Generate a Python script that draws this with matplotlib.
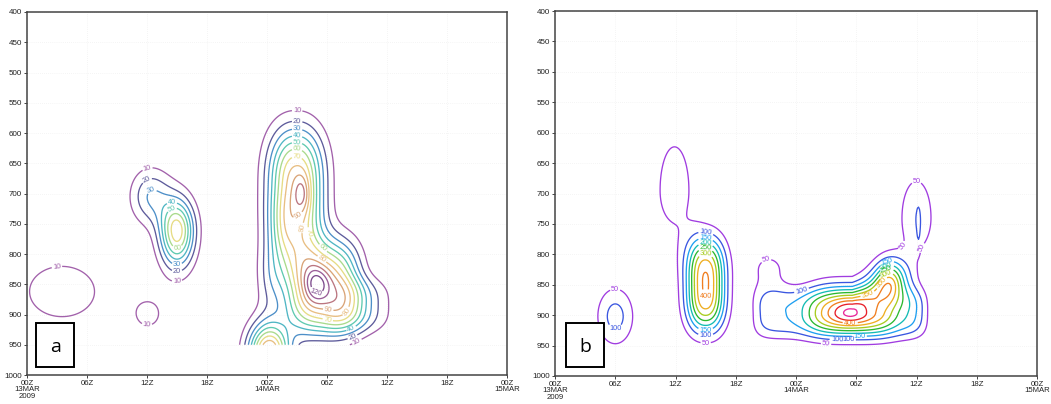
import numpy as np
import matplotlib
matplotlib.use("Agg")
import matplotlib.pyplot as plt
from matplotlib.patches import Rectangle

# ---------------- data (time in hours after 00Z 13MAR2009, pressure in hPa) -------------
# Panel a : field components (centre, peak, widths, shape, tilt)
a_t0   = [3.5, 12.1, 15.0, 12.4, 26.9, 27.5, 29.5, 29.0, 24.2, 33.0, 24.5, 25.8]
a_p0   = [862, 899, 762, 705, 690, 700, 860, 850, 965, 885, 840, 760]
a_amp  = [17, 12, 76, 30, 85, 22, 85, 35, 95, 30, 20, 15]
a_sx   = [4.45, 2.35, 1.7, 2.0, 2.7, 0.8, 3.6, 1.3, 2.0, 3.0, 1.5, 1.5]
a_syu  = [57, 42, 52, 45, 95, 30, 80, 30, 50, 45, 60, 55]
a_syd  = [57, 42, 58, 45, 120, 30, 72, 30, 50, 45, 60, 50]
a_px   = [2, 2, 2, 2, 2.2, 2, 3, 2, 2, 2, 2, 2]
a_py   = [2, 2, 2, 2, 2.6, 2, 2.7, 2, 2, 3, 2, 2]
a_tilt = [0, 0, 0, 0, 0, 0, 0, 0, 0, 0, 0, 0]
a_levels = [10, 20, 30, 40, 50, 60, 70, 80, 90, 100, 110, 120]

# Panel b
b_t0   = [6.0, 15.0, 11.9, 28.4, 29.6, 29.4, 33.4, 21.3, 35.4, 36.0, 36.2]
b_p0   = [902, 850, 695, 897, 897, 896, 845, 825, 860, 740, 765]
b_amp  = [120, 405, 65, 145, 260, 110, 230, 65, 40, 95, 35]
b_sx   = [1.85, 1.9, 2.8, 8.6, 4.4, 1.8, 1.5, 2.0, 1.2, 1.8, 0.2]
b_syu  = [48, 75, 140, 42, 45, 25, 36, 32, 60, 75, 40]
b_syd  = [48, 75, 100, 41, 35, 20, 32, 40, 60, 60, 30]
b_px   = [2, 2.2, 2, 12, 3.5, 2, 2, 2, 2, 2, 2]
b_py   = [2, 3.0, 2, 3, 2, 2, 2, 2, 3, 2, 2]
b_tilt = [0, 0, 0, 0, -10, 0, 0, 0, 0, 0, 0]
b_levels = [50, 100, 150, 200, 250, 300, 350, 400, 450, 500]

time_ticks = [0, 6, 12, 18, 24, 30, 36, 42, 48]
time_labels = ["00Z\n13MAR\n2009", "06Z", "12Z", "18Z", "00Z\n14MAR", "06Z", "12Z", "18Z", "00Z\n15MAR"]
p_ticks = [400, 450, 500, 550, 600, 650, 700, 750, 800, 850, 900, 950, 1000]

# label anchor points (where the reference writes its contour labels)
a_label_pts = [(3.0, 822), (12.0, 916), (12.0, 656), (12.0, 678), (12.6, 702), (14.5, 716),
               (14.5, 726), (15.0, 787), (15.0, 821), (15.0, 833), (15.0, 846),
               (27.0, 570), (27.0, 587), (27.0, 598), (27.0, 607), (27.0, 617), (27.0, 628),
               (27.0, 638), (26.9, 731), (27.6, 757), (28.3, 764), (29.5, 792), (29.5, 808),
               (28.8, 867), (30.1, 895), (30.1, 907), (31.8, 893), (32.5, 926), (32.5, 935),
               (33.0, 945)]
b_label_pts = [(6.0, 862), (6.0, 922), (15.0, 767), (15.0, 775), (15.0, 783), (15.0, 790),
               (15.0, 798), (15.0, 877), (15.0, 923), (15.0, 931), (15.0, 941), (21.0, 808),
               (24.6, 862), (33.0, 812), (33.0, 819), (33.0, 826), (33.0, 834), (32.4, 845),
               (31.2, 869), (29.4, 912), (30.3, 933), (29.2, 938), (28.1, 942), (27.0, 946),
               (35.2, 793), (36.2, 787), (36.0, 673)]

a_colors = ["#a261ab", "#5d5b9b", "#4d8fc8", "#4fb6c4", "#5fcab0", "#a9da8c", "#e6dc84",
            "#e8be82", "#d9a477", "#bb7680", "#9a5e98", "#7c4a8c"]
b_colors = ["#a03ce0", "#3a56e0", "#1f9ff0", "#14bcb4", "#2cb830", "#a8cc20", "#eeae22",
            "#f07e20", "#e8202a", "#e8289a"]

# ---------------- build fields -------------
t = np.linspace(0, 48, 481)
p = np.linspace(400, 950, 276)
T, P = np.meshgrid(t, p)


def build(t0, p0, amp, sx, syu, syd, px, py, tilt):
    Z = np.zeros_like(T)
    for i in range(len(t0)):
        dx = np.abs(T - t0[i]) / sx[i]
        up = np.minimum((P - p0[i]) - tilt[i] * np.maximum(T - t0[i], 0), 0)
        dn = np.maximum(P - p0[i], 0)
        vert = (np.abs(up) / syu[i]) ** py[i] + (dn / syd[i]) ** py[i]
        Z += amp[i] * np.exp(-dx ** px[i] - vert)
    return Z


Za = build(a_t0, a_p0, a_amp, a_sx, a_syu, a_syd, a_px, a_py, a_tilt)
Zb = build(b_t0, b_p0, b_amp, b_sx, b_syu, b_syd, b_px, b_py, b_tilt)

# ---------------- figure -------------
W, H = 1051, 404
fig = plt.figure(figsize=(W / 100, H / 100), dpi=100)
fig.patch.set_facecolor("white")
tick_font = ["Liberation Sans Narrow", "Liberation Sans", "DejaVu Sans"]

ax_a = fig.add_axes([27 / W, 1 - 375 / H, 480 / W, 363 / H])
ax_b = fig.add_axes([555 / W, 1 - 376 / H, 482 / W, 365 / H])


def style(ax):
    ax.set_xlim(0, 48)
    ax.set_ylim(1000, 400)
    ax.set_xticks(time_ticks)
    ax.set_xticklabels(time_labels, fontsize=5.6, family=tick_font, linespacing=0.85,
                       color="#222222")
    ax.set_yticks(p_ticks)
    ax.set_yticklabels([str(v) for v in p_ticks], fontsize=5.8, family=tick_font,
                       color="#222222")
    ax.tick_params(direction="out", length=2.5, width=0.7, pad=1.2, color="#444444")
    for s in ax.spines.values():
        s.set_color("#444444")
        s.set_linewidth(1.1)
    ax.grid(True, color="#ececec", linestyle=(0, (1, 2)), linewidth=0.5)
    ax.set_axisbelow(True)


def panel(ax, Z, levels, colors, pts, letter, box):
    style(ax)
    cs = ax.contour(T, P, Z, levels=levels, colors=colors, linewidths=0.95)
    lbls = ax.clabel(cs, fmt="%d", fontsize=5.3, inline=True, inline_spacing=0.5,
                     manual=pts)
    for tx in lbls:
        tx.set_family(tick_font)
    ax.add_patch(Rectangle((box[0], box[1]), box[2], box[3], transform=ax.transAxes,
                           fill=True, facecolor="white", edgecolor="black",
                           linewidth=1.4, zorder=5, clip_on=False))
    ax.text(box[0] + box[2] / 2, box[1] + box[3] / 2 - 0.005, letter, transform=ax.transAxes,
            ha="center", va="center", fontsize=14, family=["Open Sans", "DejaVu Sans"],
            zorder=6)


panel(ax_a, Za, a_levels, a_colors, a_label_pts, "a", (0.019, 0.022, 0.079, 0.121))
panel(ax_b, Zb, b_levels, b_colors, b_label_pts, "b", (0.023, 0.025, 0.079, 0.120))

fig.savefig("out.png", dpi=100, facecolor="white")
